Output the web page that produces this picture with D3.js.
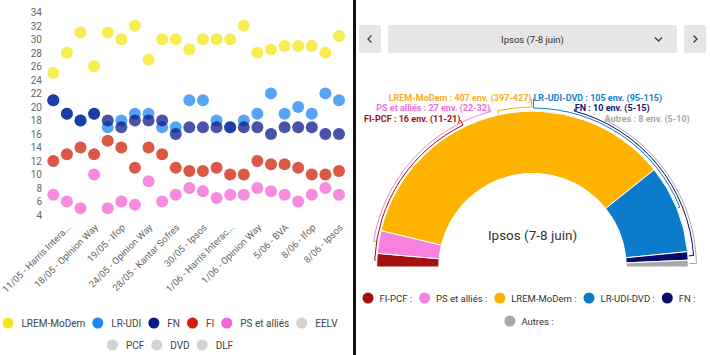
<!DOCTYPE html>
<html><head><meta charset="utf-8">
<script src="https://cdn.jsdelivr.net/npm/d3@7"></script>
<style>
html,body{margin:0;padding:0;background:#fff;}
svg{display:block;font-family:Roboto,"Noto Sans",sans-serif;}
</style></head><body>
<svg id="c" width="710" height="355"></svg>
<script>
// ---------- LEFT CHART DATA ----------
const categories = [
  "10/05 - Ifop","11/05 - Harris Interactive","16/05 - Elabe","18/05 - Opinion Way",
  "19/05 - Harris Interactive","19/05 - Ifop","22/05 - Kantar Sofres","24/05 - Opinion Way",
  "26/05 - Ifop","28/05 - Kantar Sofres","29/05 - Ifop","30/05 - Ipsos",
  "31/05 - Elabe","1/06 - Harris Interactive","1/06 - Ifop","1/06 - Opinion Way",
  "2/06 - Ifop","5/06 - BVA","6/06 - Elabe","8/06 - Ifop",
  "8/06 - Harris Interactive","8/06 - Ipsos"
];
const lremModem = [25,28,31,26,31,30,32,27,30,30,28.5,30,30,30,32,28,28.5,29,29,29,28,30.5];
const lrUdi     = [21,19,18,19,17,18,19,19,17,17,21,21,18,17,18,19,22,19,20,19,22,21];
const fn        = [21,19,18,19,18,17,18,18,18,16,17,17,17,17,17,17,16,17,17,17,16,16];
const fi        = [12,13,14,13,15,14,11,14,13,11,10.5,10.5,11,10,10,12,11.5,11.5,11,10,10,10.5];
const psAllies  = [7,6,5,10,5,6,5.5,9,6,7,8,7.5,6.5,7,7,8,7.5,7,6,7,8,7];
const seriesNames  = ["LREM-MoDem","LR-UDI","FN","FI","PS et alliés","EELV","PCF","DVD","DLF"];
const seriesColors = ["#f5e51a","#1f86f2","#0b1a8c","#d21f0a","#f563d4","#d3d3d3","#d3d3d3","#d3d3d3","#d3d3d3"];
const yTicks = [4,6,8,10,12,14,16,18,20,22,24,26,28,30,32,34];

// ---------- RIGHT CHART DATA ----------
const pollTitle = "Ipsos (7-8 juin)";
const parties  = ["FI-PCF","PS et alliés","LREM-MoDem","LR-UDI-DVD","FN","Autres"];
const seats    = [16,27,407,105,10,8];
const seatMin  = [11,22,397,95,5,5];
const seatMax  = [21,32,427,115,15,10];
const partyColors = ["#a3110f","#f881dd","#fdb300","#0c7bcb","#0b0b6b","#a8a8a8"];
const labelColors = ["#a3110f","#f06fd2","#f6ae2a","#1a7fcc","#14147a","#a8a8a8"];

const svg = d3.select("#c");
const FONT = "Roboto";

function textWidth(str, size, weight){
  const t = svg.append("text").attr("font-family",FONT).attr("font-size",size)
    .attr("font-weight",weight||"normal").text(str);
  const w = t.node().getComputedTextLength(); t.remove(); return w;
}

// divider
svg.append("rect").attr("x",353).attr("y",0).attr("width",3).attr("height",355).attr("fill","#111");

// ================= LEFT: scatter =================
const x = d3.scalePoint().domain(d3.range(categories.length)).range([53.3,339]);
const y = d3.scaleLinear().domain([4,34]).range([215,12.3]);

const gY = svg.append("g").attr("transform","translate(45,0)")
  .call(d3.axisLeft(y).tickValues(yTicks).tickSize(0).tickPadding(3));
gY.attr("font-family",FONT).attr("font-size",10);
gY.select(".domain").remove();
gY.selectAll("text").attr("fill","#666");

const plotted = [lremModem, lrUdi, fn, fi, psAllies];
plotted.forEach((vals,si)=>{
  svg.append("g").selectAll("circle")
    .data(vals.map((v,i)=>({v,i})).filter(d=>d.v!=null))
    .join("circle")
    .attr("cx",d=>x(d.i)).attr("cy",d=>y(d.v)).attr("r",6)
    .attr("fill",seriesColors[si]).attr("fill-opacity",0.75);
});

// x labels (every second category)
const maxLabelW = 94;
const xl = svg.append("g").attr("font-family",FONT).attr("font-size",9.5).attr("fill","#666");
categories.forEach((c,i)=>{
  if (i % 2 !== 1) return;
  const t = xl.append("text").attr("text-anchor","end")
    .attr("transform",`translate(${x(i)+4.5},228) rotate(-45)`).text(c);
  if (t.node().getComputedTextLength() > maxLabelW){
    let s = c;
    while (s.length>0){
      s = s.slice(0,-1);
      t.text(s.trimEnd()+"...");
      if (t.node().getComputedTextLength() <= maxLabelW) break;
    }
  }
});

// legend helper
function legend(items, centerX, y0, rowH, maxW, r, textOff, trail, size, color){
  const rows=[[]]; let w=0;
  items.forEach(it=>{
    const iw = textOff + textWidth(it.label,size) + trail;
    if (w + iw - trail > maxW && rows[rows.length-1].length){ rows.push([]); w=0; }
    rows[rows.length-1].push({...it, iw}); w+=iw;
  });
  const g = svg.append("g").attr("font-family",FONT).attr("font-size",size);
  rows.forEach((row,ri)=>{
    const tot = d3.sum(row,d=>d.iw) - trail;
    let cx = centerX - tot/2;
    const yy = y0 + ri*rowH;
    row.forEach(d=>{
      g.append("circle").attr("cx",cx+r).attr("cy",yy).attr("r",r).attr("fill",d.color);
      g.append("text").attr("x",cx+textOff).attr("y",yy+3.5).attr("fill",color).text(d.label);
      cx += d.iw;
    });
  });
}
legend(seriesNames.map((n,i)=>({label:n,color:seriesColors[i]})), 170, 323, 22, 340, 5.5, 19, 7, 10, "#444");

// ================= RIGHT: hemicycle =================
const bar = svg.append("g");
bar.append("rect").attr("x",359).attr("y",25).attr("width",22).attr("height",28).attr("rx",2).attr("fill","#e6e6e6");
bar.append("rect").attr("x",388).attr("y",25).attr("width",289).attr("height",28).attr("rx",2).attr("fill","#e6e6e6");
bar.append("rect").attr("x",684).attr("y",25).attr("width",22).attr("height",28).attr("rx",2).attr("fill","#e6e6e6");
bar.append("path").attr("d","M371.5,35.5 L368,39 L371.5,42.5").attr("fill","none").attr("stroke","#444").attr("stroke-width",1.4);
bar.append("path").attr("d","M693.5,35.5 L697,39 L693.5,42.5").attr("fill","none").attr("stroke","#444").attr("stroke-width",1.4);
bar.append("path").attr("d","M655,37.5 L658.5,41 L662,37.5").attr("fill","none").attr("stroke","#444").attr("stroke-width",1.4);
bar.append("text").attr("x",532.5).attr("y",42.5).attr("text-anchor","middle")
  .attr("font-family",FONT).attr("font-size",9.5).attr("fill","#333").text(pollTitle);

const cx = 532.5, cy = 267, R = 155.8, R0 = 93.7;
const pie = d3.pie().sort(null).value(d=>d).startAngle(-Math.PI/2).endAngle(Math.PI/2);
const arcs = pie(seats);
const arcGen = d3.arc().innerRadius(R0).outerRadius(R);
const g2 = svg.append("g").attr("transform",`translate(${cx},${cy})`);
g2.selectAll("path.slice").data(arcs).join("path").attr("class","slice")
  .attr("d",arcGen).attr("fill",(d,i)=>partyColors[i]).attr("stroke","#fff").attr("stroke-width",1);

// labels + connectors
const rowDy = [-170,-160,-149];
const labelR = 165.5;
const mids = arcs.map(a=>(a.startAngle+a.endAngle)/2);
const left = d3.range(parties.length).filter(i=>mids[i]<0).sort((a,b)=>Math.abs(mids[a])-Math.abs(mids[b]));
const right = d3.range(parties.length).filter(i=>mids[i]>=0).sort((a,b)=>Math.abs(mids[a])-Math.abs(mids[b]));
const connR = {0:158,1:161,2:160,3:159,4:161.5,5:164};
const pt = (ang,rr)=>[cx+rr*Math.sin(ang), cy-rr*Math.cos(ang)];
const lg = svg.append("g").attr("font-family",FONT).attr("font-size",9).attr("font-weight","bold");
[[left,-1],[right,1]].forEach(([idxs,side])=>{
  idxs.forEach((pi,row)=>{
    const dy = rowDy[row];
    const dx = Math.max(1, Math.sqrt(Math.max(0,labelR*labelR-dy*dy)));
    const lx = cx + side*dx, ly = cy + dy;
    const txt = `${parties[pi]} : ${seats[pi]} env. (${seatMin[pi]}-${seatMax[pi]})`;
    lg.append("text").attr("x",lx).attr("y",ly+3.5).attr("text-anchor",side<0?"end":"start")
      .attr("fill",labelColors[pi]).text(txt);
    const aL = Math.atan2(lx-cx, cy-(ly+2));
    const rc = connR[pi];
    const p1 = pt(aL, rc), p2 = pt(mids[pi], rc), p3 = pt(mids[pi], R+1);
    const sweep = mids[pi] > aL ? 1 : 0;
    svg.append("path")
      .attr("d",`M${lx},${ly+2} L${p1[0]},${p1[1]} A${rc},${rc} 0 0 ${sweep} ${p2[0]},${p2[1]} L${p3[0]},${p3[1]}`)
      .attr("fill","none").attr("stroke",partyColors[pi]).attr("stroke-width",1);
  });
});

svg.append("text").attr("x",cx).attr("y",240).attr("text-anchor","middle")
  .attr("font-family",FONT).attr("font-size",13.5).attr("fill","#333").text(pollTitle);

legend(parties.map((n,i)=>({label:n+" :",color:partyColors[i]})), 529, 298, 23, 360, 5.5, 17, 7, 9.5, "#333");
</script>
</body></html>
